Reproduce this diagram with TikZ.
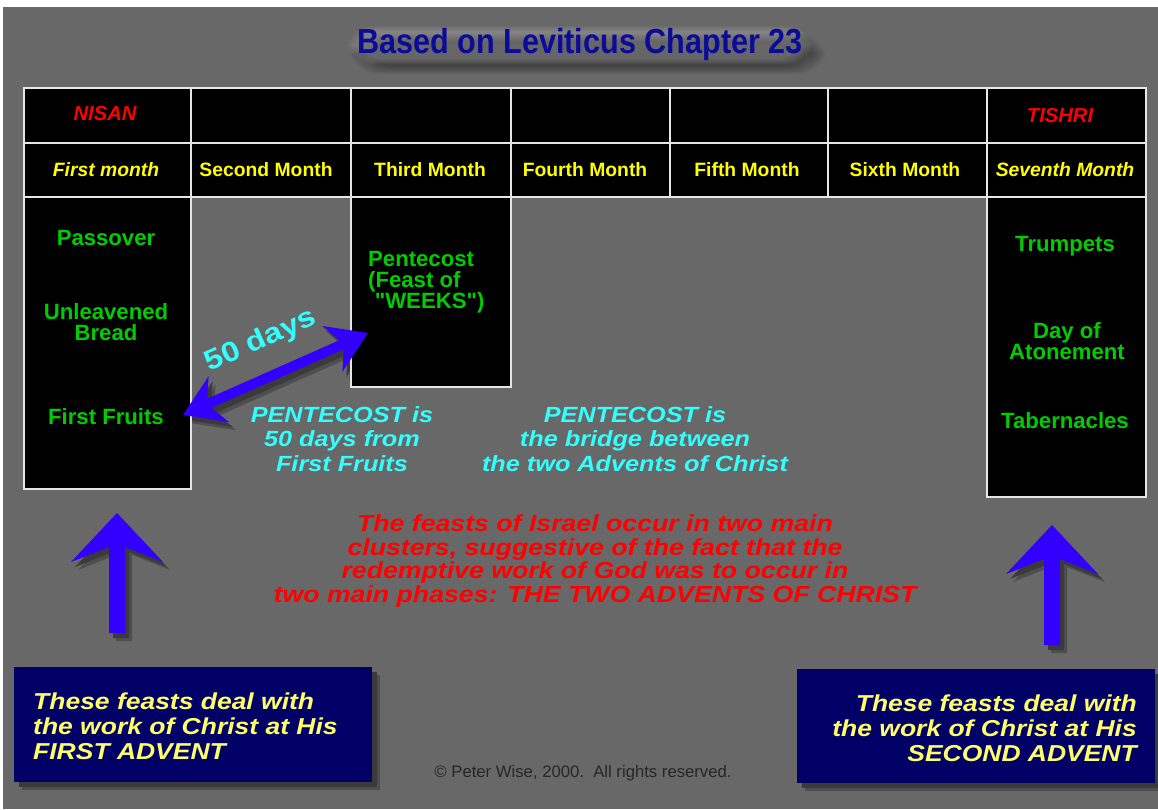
\documentclass[tikz,border=0pt]{standalone}
\usepackage{fontspec}
\setmainfont{Liberation Sans}
\newfontfamily\wideFont[FakeStretch=1.15]{Liberation Sans}
\newfontfamily\narrowFont[FakeStretch=0.88]{Liberation Sans}
\usepackage{tikz}
\usetikzlibrary{arrows.meta, calc, positioning}
\definecolor{bgGray}{HTML}{686868}
\definecolor{shadowGray}{HTML}{3A3A3A}
\definecolor{softShadow}{HTML}{4E4E4E}
\definecolor{lineWhite}{HTML}{E6E6E6}
\definecolor{festGreen}{HTML}{00CC00}
\definecolor{monthYellow}{HTML}{FFFF00}
\definecolor{noteCyan}{HTML}{33FFFF}
\definecolor{arrowBlue}{HTML}{3300FF}
\definecolor{titleBlue}{HTML}{0B0B9A}
\definecolor{boxNavy}{HTML}{000066}
\definecolor{boxYellow}{HTML}{FFFF66}
\newcommand{\UpArrow}[4]{
	\def\uLen{120}
	\def\uHalf{46}
	\def\uShaft{8}
	\def\uFill{#4}
	\fill[\uFill] ($ (#1)+(#2,#3) $) -- ++(\uHalf,49) -- ++({\uShaft-\uHalf},-15) -- ++(0,{\uLen-34})
		-- ++({-2*\uShaft},0) -- ++(0,{34-\uLen}) -- ++({\uShaft-\uHalf},15) -- cycle;
}
\tikzset{
	tableline/.style={draw=lineWhite, line width=1.1pt},
	headcell/.style={font=\bfseries\itshape\fontsize{11.5}{13}\selectfont, text=red},
	monthcell/.style={font=\bfseries\fontsize{11}{13}\selectfont, text=monthYellow},
	feast/.style={font=\bfseries\fontsize{12.6}{12}\selectfont, text=festGreen, align=center},
	cyannote/.style={font=\wideFont\bfseries\itshape\fontsize{12.5}{13.8}\selectfont, text=noteCyan, align=center},
	rednote/.style={font=\wideFont\bfseries\itshape\fontsize{13.2}{13.6}\selectfont, text=red, align=center},
	advent/.style={font=\wideFont\bfseries\itshape\fontsize{13.1}{14.2}\selectfont, text=boxYellow},
	twinarrow/.style={line width=5.7pt, {Stealth[length=22pt, width=28pt, inset=7pt]}-{Stealth[length=22pt, width=28pt, inset=7pt]}}
}
\begin{document}
\begin{tikzpicture}[x=0.02cm, y=-0.02cm]

  \coordinate (T) at (580,45);
  \coordinate (ffTip) at (183,415);
  \coordinate (pentTip) at (368,333);
  \coordinate (upLeft) at (117,513);
  \coordinate (upRight) at (1052,525);

  \useasboundingbox (0,0) rectangle (1158,809);
  \fill[white] (0,0) rectangle (1158,809);
  \fill[bgGray] (3,7) rectangle (1158,809);

  % title with a soft glow behind it
  \foreach \i in {0,...,7}
    \fill[black, opacity=0.045, rounded corners=16] ($ (T)+(-216-2*\i,-4-\i) $) rectangle ($ (T)+(232+2*\i,22+\i) $);
  \foreach \i in {0,...,5}
    \fill[white, opacity=0.035, rounded corners=14] ($ (T)+(-222-2*\i,-14-\i) $) rectangle ($ (T)+(222+2*\i,14+\i) $);
  \node[font=\narrowFont\bfseries\fontsize{19.8}{22}\selectfont, text=titleBlue] (title) at (T) {Based on Leviticus Chapter 23};

  % shadows first, the boxes hide them
  \draw[softShadow, twinarrow] ($ (ffTip)+(7,8) $) -- ($ (pentTip)+(7,8) $);
  \draw[shadowGray, twinarrow] ($ (ffTip)+(4,5) $) -- ($ (pentTip)+(4,5) $);
  \UpArrow{upLeft}{7}{8}{softShadow}
  \UpArrow{upLeft}{4}{5}{shadowGray}
  \UpArrow{upRight}{7}{8}{softShadow}
  \UpArrow{upRight}{4}{5}{shadowGray}
  \fill[softShadow] (22,675) rectangle (380,790);
  \fill[shadowGray] (19,672) rectangle (377,787);
  \fill[softShadow] (805,677) rectangle (1163,791);
  \fill[shadowGray] (802,674) rectangle (1160,788);

  % the calendar table
  \fill[black] (24,88) rectangle (1146,197);
  \fill[black] (24,197) rectangle (191,489);
  \fill[black] (351,197) rectangle (511,387);
  \fill[black] (987,197) rectangle (1146,497);
  \draw[tableline] (24,88) rectangle (1146,197);
  \draw[tableline] (24,143) -- (1146,143);
  \foreach \x in {191,351,511,670,828,987}
    \draw[tableline] (\x,88) -- (\x,197);
  \draw[tableline] (24,197) rectangle (191,489);
  \draw[tableline] (351,197) rectangle (511,387);
  \draw[tableline] (987,197) rectangle (1146,497);

  \node[headcell] (nisan) at (105,114) {NISAN};
  \node[headcell] (tishri) at (1060,116) {TISHRI};
  \node[monthcell, font=\bfseries\itshape\fontsize{11}{13}\selectfont] (month1) at (106,170) {First month};
  \foreach \x/\n/\name in {266/2/Second Month, 430/3/Third Month, 585/4/Fourth Month, 747/5/Fifth Month, 905/6/Sixth Month}
    \node[monthcell] (month\n) at (\x,170) {\name};
  \node[monthcell, font=\bfseries\itshape\fontsize{11}{13}\selectfont] (month7) at (1065,170) {Seventh Month};

  \node[feast] (passover) at (106,238) {Passover};
  \node[feast] (bread) at (106,322) {Unleavened\\Bread};
  \node[feast] (firstFruits) at (106,417) {First Fruits};
  \node[feast, align=left, anchor=west] (pentecost) at (362,282) {Pentecost\\(Feast of\\\hspace{0.3em}\textquotedbl WEEKS\textquotedbl)};
  \node[feast] (trumpets) at (1065,246) {Trumpets};
  \node[feast] (atonement) at (1067,341) {Day of\\Atonement};
  \node[feast] (tabernacles) at (1065,421) {Tabernacles};

  \draw[arrowBlue, twinarrow] (ffTip) -- (pentTip);
  \node[font=\wideFont\bfseries\fontsize{16}{18}\selectfont, text=noteCyan, rotate=24, inner sep=0pt] (fiftyDays) at (261,341) {50 days};

  \node[cyannote] (noteDays) at (342,439) {PENTECOST is\\50 days from\\First Fruits};
  \node[cyannote] (noteBridge) at (635,439) {PENTECOST is\\the bridge between\\the two Advents of Christ};
  \node[rednote] (clusters) at (595,561) {The feasts of Israel occur in two main\\clusters, suggestive of the fact that the\\redemptive work of God was to occur in\\two main phases: THE TWO ADVENTS OF CHRIST};

  \UpArrow{upLeft}{0}{0}{arrowBlue}
  \UpArrow{upRight}{0}{0}{arrowBlue}

  \fill[boxNavy] (14,667) rectangle (372,782);
  \fill[boxNavy] (797,669) rectangle (1155,783);
  \node[advent, align=left, anchor=west] (firstAdvent) at (27,726) {These feasts deal with\\the work of Christ at His\\FIRST ADVENT};
  \node[advent, align=right, anchor=east] (secondAdvent) at (1143,728) {These feasts deal with\\the work of Christ at His\\SECOND ADVENT};

  \node[font=\fontsize{9.5}{11}\selectfont, text=black!85] (copyright) at (583,773) {\textcopyright{} Peter Wise, 2000.\ \ All rights reserved.};

\end{tikzpicture}
\end{document}
